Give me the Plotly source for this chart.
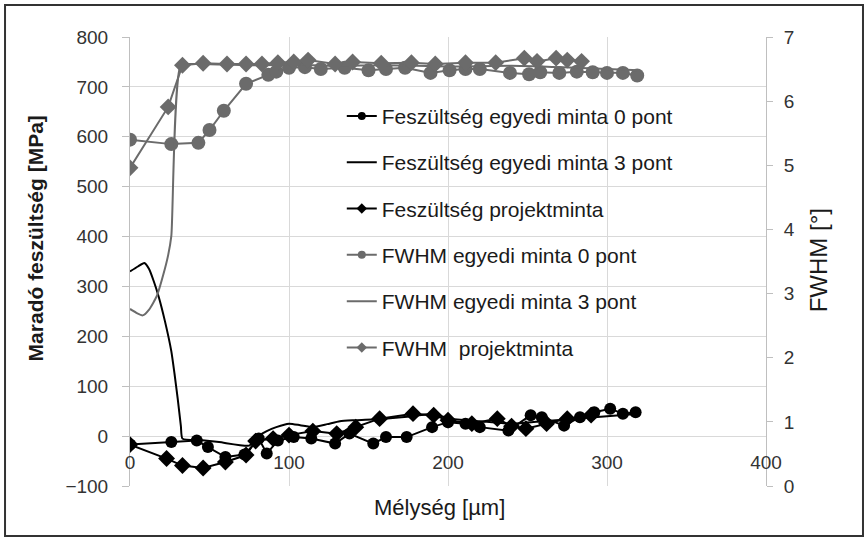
import plotly.graph_objects as go

# ---------------- data ----------------
# Feszültség egyedi minta 0 pont (MPa)
s0_x = [0, 26, 42, 49, 60, 72, 81, 86, 93, 103, 114, 129, 138, 153, 161, 174, 190, 200, 211, 220, 238, 252, 259, 273, 283, 292, 302, 310, 318]
s0_y = [-17, -12, -9, -22, -42, -37, -5, -35, -9, -2, -5, -15, 5, -15, -2, -2, 18, 28, 25, 18, 11, 42, 38, 21, 38, 48, 55, 45, 48]

# Feszültség egyedi minta 3 pont (MPa)
s3_x = [0, 5, 9, 12, 15, 18, 22, 26, 28, 30, 32, 33, 44, 56, 75, 78, 81, 86, 92, 100, 107, 115, 124, 132, 142, 160, 178, 191, 201, 220, 240, 260, 280, 300, 320]
s3_y = [330, 340, 347, 335, 310, 280, 230, 170, 125, 75, 20, -5, -8, -12, -19, -10, 1, 10, 18, 25, 22, 18, 24, 30, 32, 35, 40, 45, 35, 30, 25, 30, 35, 40, 45]

# Feszültség projektminta (MPa)
sp_x = [0, 23, 33, 46, 60, 73, 79, 90, 100, 115, 130, 142, 157, 178, 191, 200, 215, 231, 240, 249, 262, 275, 290]
sp_y = [-17, -45, -59, -64, -52, -38, -10, -5, 2, 10, 5, 18, 35, 45, 42, 32, 25, 35, 20, 15, 25, 35, 42]

# FWHM egyedi minta 0 pont (°)
f0_x = [0, 26, 43, 50, 59, 73, 87, 92, 100, 110, 120, 135, 150, 161, 173, 189, 201, 211, 220, 239, 251, 258, 270, 281, 291, 300, 310, 319]
f0_y = [5.40, 5.33, 5.35, 5.55, 5.85, 6.27, 6.41, 6.46, 6.52, 6.53, 6.50, 6.52, 6.48, 6.50, 6.52, 6.44, 6.48, 6.50, 6.50, 6.44, 6.42, 6.45, 6.44, 6.46, 6.45, 6.44, 6.44, 6.40]

# FWHM egyedi minta 3 pont (°)
f3_x = [0, 4, 8, 12, 17, 21, 24, 26, 32, 40, 60, 80, 100, 130, 160, 200, 240, 280, 320]
f3_y = [2.76, 2.70, 2.66, 2.75, 2.97, 3.30, 3.60, 3.90, 6.56, 6.58, 6.57, 6.56, 6.57, 6.55, 6.56, 6.54, 6.55, 6.52, 6.48]

# FWHM projektminta (°)
fp_x = [0, 24, 33, 46, 61, 73, 83, 93, 103, 112, 129, 140, 158, 177, 192, 211, 230, 248, 256, 268, 275, 284]
fp_y = [4.96, 5.91, 6.56, 6.59, 6.58, 6.58, 6.58, 6.60, 6.61, 6.64, 6.58, 6.61, 6.59, 6.60, 6.58, 6.60, 6.60, 6.67, 6.62, 6.67, 6.64, 6.62]

names = [
    "Feszültség egyedi minta 0 pont",
    "Feszültség egyedi minta 3 pont",
    "Feszültség projektminta",
    "FWHM egyedi minta 0 pont",
    "FWHM egyedi minta 3 pont",
    "FWHM  projektminta",
]

FONT = "Liberation Sans, Arial, sans-serif"
BLACK = "#000000"
GRAY = "#6b6b6b"

series = [
    dict(x=s0_x, y=s0_y, color=BLACK, symbol="circle", size=12, axis="y", mode="lines+markers", shape="linear"),
    dict(x=s3_x, y=s3_y, color=BLACK, symbol=None, size=0, axis="y", mode="lines", shape="spline"),
    dict(x=sp_x, y=sp_y, color=BLACK, symbol="diamond", size=13, axis="y", mode="lines+markers", shape="linear"),
    dict(x=f0_x, y=f0_y, color=GRAY, symbol="circle", size=14, axis="y2", mode="lines+markers", shape="linear"),
    dict(x=f3_x, y=f3_y, color=GRAY, symbol=None, size=0, axis="y2", mode="lines", shape="spline"),
    dict(x=fp_x, y=fp_y, color=GRAY, symbol="diamond", size=13, axis="y2", mode="lines+markers", shape="linear"),
]

fig = go.Figure()

# FWHM (right axis) first, stress drawn afterwards
draw_order = [3, 4, 5, 0, 1, 2]
for i in draw_order:
    s = series[i]
    kw = dict(x=s["x"], y=s["y"], name=names[i], mode=s["mode"], yaxis=s["axis"],
              line=dict(color=s["color"], width=2, shape=s["shape"]),
              showlegend=False, hoverinfo="x+y")
    if s["shape"] == "spline":
        kw["line"]["smoothing"] = 0.55
    if s["symbol"]:
        kw["marker"] = dict(symbol=s["symbol"], size=s["size"], color=s["color"])
    fig.add_trace(go.Scatter(**kw))

# legend entries (small symbols as in the original legend)
for i, s in enumerate(series):
    kw = dict(x=[None], y=[None], name=names[i], mode=s["mode"], yaxis=s["axis"],
              line=dict(color=s["color"], width=2), legendgroup=f"g{i}", legendrank=i + 1)
    if s["symbol"]:
        kw["marker"] = dict(symbol=s["symbol"], size=8, color=s["color"])
    fig.add_trace(go.Scatter(**kw))

fig.update_layout(
    width=868, height=538,
    margin=dict(l=130, r=102, t=37, b=52),
    paper_bgcolor="white", plot_bgcolor="white",
    font=dict(family=FONT, size=19, color="#333333"),
    showlegend=True,
    legend=dict(x=0.333, y=0.869, xanchor="left", yanchor="top",
                bgcolor="rgba(255,255,255,0)", font=dict(size=21, color="#1a1a1a"),
                tracegroupgap=16, itemwidth=30, traceorder="grouped"),
    xaxis=dict(range=[0, 400], dtick=100, tick0=0, showgrid=True, gridcolor="#d9d9d9",
               gridwidth=1.3, zeroline=False, showline=False,
               anchor="free", position=1/9,
               ticks="outside", ticklen=9, tickcolor="rgba(0,0,0,0)",
               tickfont=dict(size=19, color="#333333")),
    yaxis=dict(range=[-100, 800], dtick=100, showgrid=True, gridcolor="#d9d9d9",
               gridwidth=1.3, zeroline=False, showline=True, linecolor="#bfbfbf",
               ticks="outside", ticklen=7, tickcolor="#bfbfbf", ticklabelstandoff=10,
               tickfont=dict(size=19, color="#333333")),
    yaxis2=dict(range=[0, 7], dtick=1, overlaying="y", side="right", showgrid=False,
                zeroline=False, showline=True, linecolor="#bfbfbf",
                ticks="outside", ticklen=6, tickcolor="#bfbfbf", ticklabelstandoff=7,
                tickfont=dict(size=19, color="#333333")),
)

fig.add_annotation(text="<b>Maradó feszültség [MPa]</b>", xref="paper", yref="paper",
                   x=-0.149, y=0.552, xanchor="center", yanchor="middle",
                   textangle=-90, showarrow=False,
                   font=dict(size=21, color="#1a1a1a"))
fig.add_annotation(text="FWHM [°]", xref="paper", yref="paper",
                   x=1.082, y=0.503, xanchor="center", yanchor="middle",
                   textangle=-90, showarrow=False,
                   font=dict(size=24, color="#1a1a1a"))
fig.add_annotation(text="Mélység [µm]", xref="paper", yref="paper",
                   x=0.487, y=-0.047, xanchor="center", yanchor="middle",
                   showarrow=False,
                   font=dict(size=22, color="#1a1a1a"))

fig.add_shape(type="rect", xref="paper", yref="paper",
              x0=-0.1965, x1=1.1525, y0=-0.1114, y1=1.0713,
              line=dict(color="#333333", width=2), fillcolor="rgba(0,0,0,0)")

fig.write_html("out.html")
